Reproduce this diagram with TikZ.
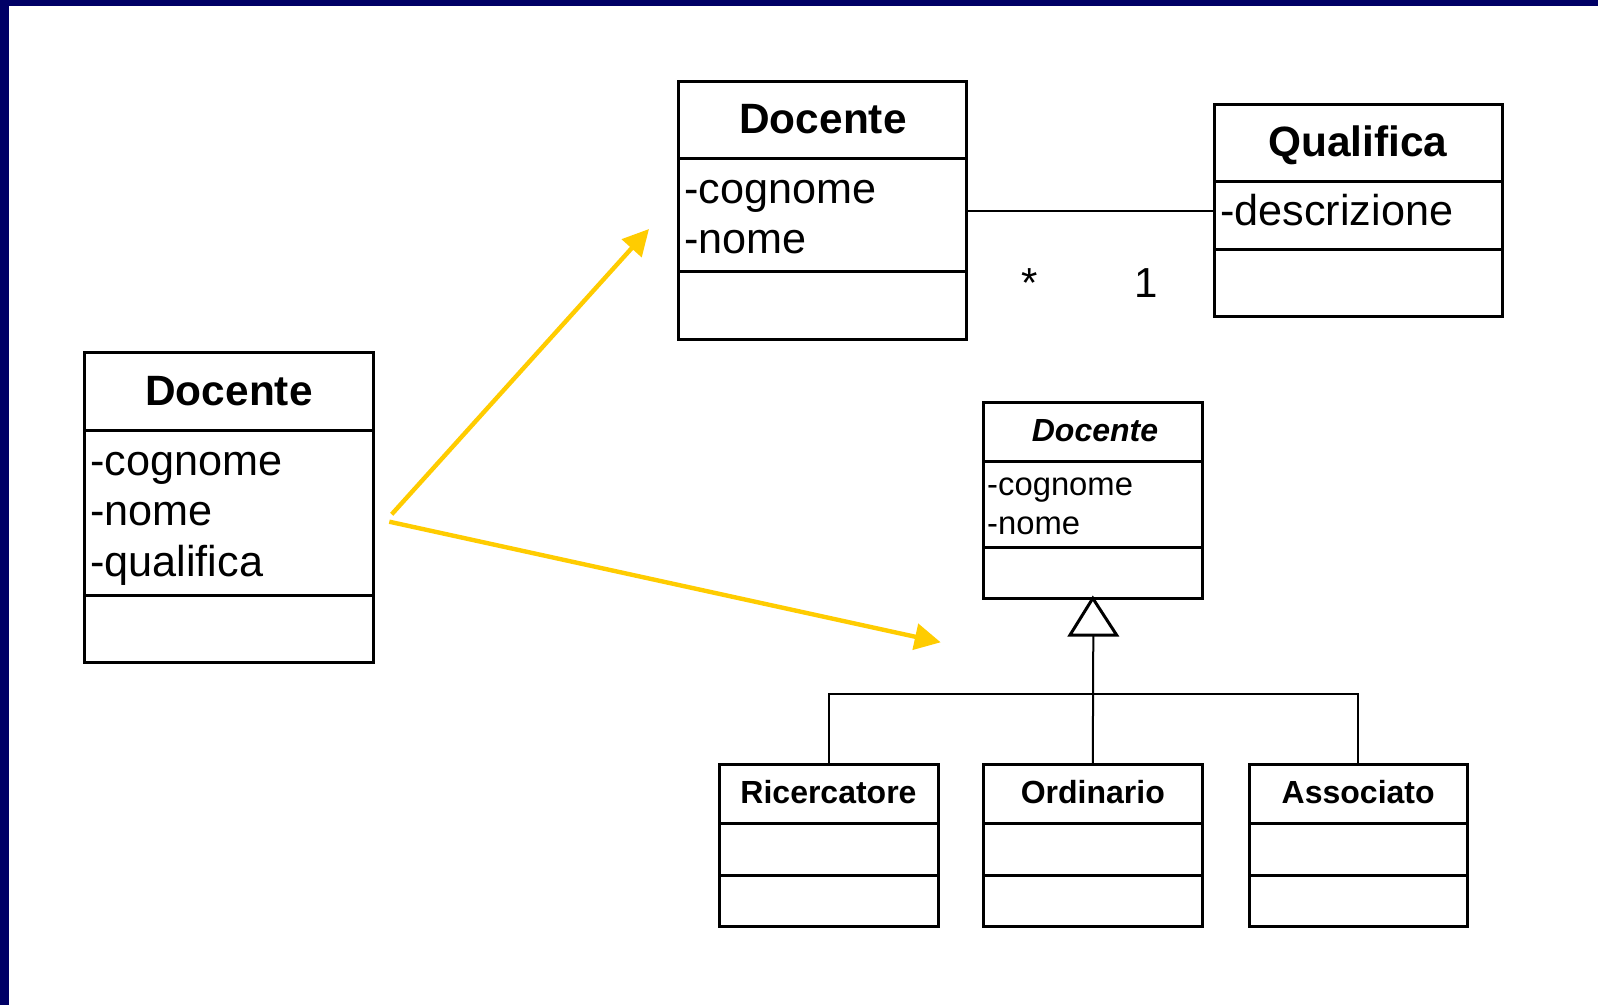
\documentclass[tikz,border=0pt]{standalone}
\usepackage{fontspec}
\setmainfont{Liberation Sans}
\usetikzlibrary{arrows.meta,fit}
\definecolor{navyframe}{RGB}{0,0,102}
\definecolor{goldarrow}{RGB}{255,204,0}
\newcommand\UMLbox[7]{% name, x1, y1, x2, y2, sep1, sep2
  \node[umlbox, fit={(#2,#3) (#4,#5)}] (#1) {};
  \draw[umlsep] (#2,#6) -- (#4,#6);
  \draw[umlsep] (#2,#7) -- (#4,#7);
}
\begin{document}
\begin{tikzpicture}[x=1pt,y=-1pt,
  umlbox/.style={draw=black, line width=3pt, inner sep=0pt, outer sep=0pt, line join=miter},
  umlsep/.style={draw=black, line width=3pt},
  bigtitle/.style={anchor=base, inner sep=0pt, font=\fontsize{42.4}{42}\selectfont\bfseries},
  bigattr/.style={anchor=base west, inner sep=0pt, font=\fontsize{43.2}{43}\selectfont},
  smalltitle/.style={anchor=base, inner sep=0pt, font=\fontsize{32}{32}\selectfont\bfseries},
  smallattr/.style={anchor=base west, inner sep=0pt, font=\fontsize{32.8}{33}\selectfont},
  mult/.style={anchor=base, inner sep=0pt, font=\fontsize{42}{42}\selectfont},
  thinline/.style={draw=black, line width=2pt},
  yarrow/.style={draw=goldarrow, line width=4.4pt, -{Triangle[length=26pt,width=26pt]}}
]
\useasboundingbox (0,0) rectangle (1598,1005);
\fill[white] (0,0) rectangle (1598,1005);
\fill[navyframe] (0,0) rectangle (1598,6);
\fill[navyframe] (0,0) rectangle (8.7,1005);

% left Docente
\UMLbox{L}{84}{352.7}{373}{662.5}{430}{595}
\node[bigtitle] (Lt) at (229,405) {Docente};
\node[bigattr] (La1) at (90,475) {-cognome};
\node[bigattr] (La2) at (90,525) {-nome};
\node[bigattr] (La3) at (90,576.5) {-qualifica};

% top Docente
\UMLbox{D2}{678}{81.7}{966}{339}{158.3}{271}
\node[bigtitle] (D2t) at (823,133) {Docente};
\node[bigattr] (D2a1) at (684,203.3) {-cognome};
\node[bigattr] (D2a2) at (684,253.3) {-nome};

% Qualifica
\UMLbox{Q}{1214}{104}{1502}{316.7}{181.7}{249.3}
\node[bigtitle] (Qt) at (1358,156) {Qualifica};
\node[bigattr] (Qa1) at (1220,225) {-descrizione};

% association
\coordinate (assoc) at (0,210.7);
\draw[thinline] (D2.east |- assoc) -- (Q.west |- assoc);
\node[mult] (m1) at (1030,297) {*};
\node[mult] (m2) at (1146,297) {1};

% abstract Docente
\UMLbox{DA}{983.3}{402.3}{1202.3}{598.3}{461}{547}
\node[smalltitle] (DAt) at (1095,441) {\itshape Docente};
\node[smallattr] (DAa1) at (987,495) {-cognome};
\node[smallattr] (DAa2) at (987,534) {-nome};

% subclasses
\UMLbox{Ric}{719}{764.3}{938}{926}{823.3}{875}
\node[smalltitle] (Rict) at (828.5,803.3) {Ricercatore};
\UMLbox{Ord}{983.3}{764.3}{1202.3}{926}{823.3}{875}
\node[smalltitle] (Ordt) at (1092.8,803.3) {Ordinario};
\UMLbox{Ass}{1249}{764.3}{1467.3}{926}{823.3}{875}
\node[smalltitle] (Asst) at (1358.2,803.3) {Associato};

% generalization
\coordinate (tribase) at (1093.3,635);
\coordinate (bar) at (1093.3,693.7);
\draw[thinline] (tribase) -- (Ord.north);
\draw[thinline] (Ric.north) -- (Ric.north |- bar) -- (Ass.north |- bar) -- (Ass.north);
\draw[draw=black, line width=3pt, fill=white, line join=miter] (DA.south) -- (1070,635) -- (1116.6,635) -- cycle;

% yellow arrows
\coordinate (a1s) at (391.7,514.3);
\coordinate (a1e) at (649,229);
\coordinate (a2s) at (389.3,521.7);
\coordinate (a2e) at (940.7,642.3);
\draw[yarrow] (a1s) -- (a1e);
\draw[yarrow] (a2s) -- (a2e);
\end{tikzpicture}
\end{document}
